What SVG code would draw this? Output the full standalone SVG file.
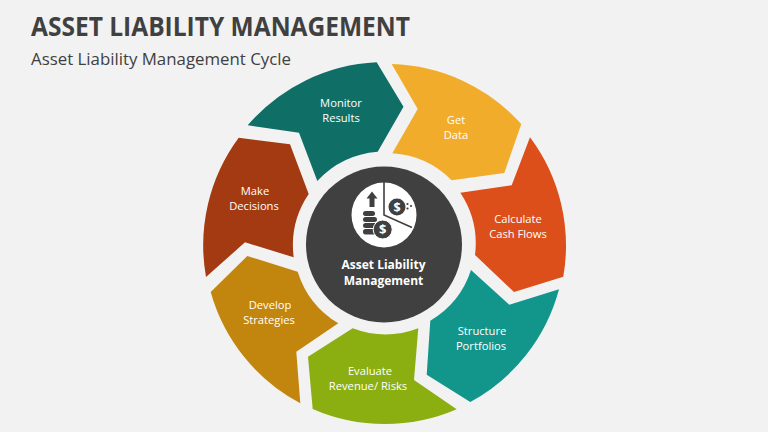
<svg xmlns="http://www.w3.org/2000/svg" width="768" height="432" viewBox="0 0 768 432">
<style>
text{font-family:"Open Sans","Noto Sans","Liberation Sans",sans-serif}
.l{font-size:11.2px;fill:#fff;text-anchor:middle}
.c{font-size:12px;font-weight:700;fill:#fff;text-anchor:middle}
.d{fill:#404040}
.s{font-weight:700;fill:#fff;text-anchor:middle}
</style>
<rect width="768" height="432" fill="#f2f2f2"/>
<text x="31" y="36" font-size="26" font-weight="700" fill="#404040" textLength="379" lengthAdjust="spacingAndGlyphs">ASSET LIABILITY MANAGEMENT</text>
<text x="31" y="65" font-size="16" fill="#404040" textLength="260" lengthAdjust="spacingAndGlyphs">Asset Liability Management Cycle</text>
<g id="connectors"></g>
<g id="node-monitor"><path fill="#0f6f66" d="M376.7 62.3L403.5 106.7L377.7 151.7A92 92 0 0 0 317.3 181L299 132.7L247.7 125.3A181 181 0 0 1 376.7 62.3Z"/><text class="l" x="341" y="107">Monitor</text><text class="l" x="341" y="122">Results</text></g>
<g id="node-get-data"><path fill="#f2ac2b" d="M391.7 64A181 181 0 0 1 521.3 124L504.3 173L451.7 180.3A92 92 0 0 0 392.3 153.3L417.7 109Z"/><text class="l" x="456" y="124">Get</text><text class="l" x="456" y="139">Data</text></g>
<g id="node-calculate"><path fill="#dc4f1b" d="M530 137.3A181 181 0 0 1 563.3 276.7L514 292L475 255A92 92 0 0 0 460.3 192.7L511.7 185.3Z"/><text class="l" x="518" y="223">Calculate</text><text class="l" x="518" y="238">Cash Flows</text></g>
<g id="node-structure"><path fill="#12968b" d="M559 289.3A181 181 0 0 1 470.3 402L426.7 374.7L430.3 320.7A92 92 0 0 0 471 270L509.3 304.7Z"/><text class="l" x="482" y="335">Structure</text><text class="l" x="481" y="350">Portfolios</text></g>
<g id="node-evaluate"><path fill="#8bae11" d="M456.7 409.3A181 181 0 0 1 312.7 409L308 356.7L352.7 328.3A92 92 0 0 0 418.3 328.3L414 380Z"/><text class="l" x="370" y="375">Evaluate</text><text class="l" x="368" y="390">Revenue/ Risks</text></g>
<g id="node-develop"><path fill="#c2860f" d="M247.3 256L297.7 271.7A92 92 0 0 0 338.3 323.3L296.3 351.7L300.3 403.3A181 181 0 0 1 210.7 292Z"/><text class="l" x="270" y="309">Develop</text><text class="l" x="269" y="324">Strategies</text></g>
<g id="node-make"><path fill="#a33a12" d="M238.7 137.7L290 144.3L308.7 194A92 92 0 0 0 293.7 257.3L245 242.3L206 277A181 181 0 0 1 238.7 137.7Z"/><text class="l" x="255" y="195">Make</text><text class="l" x="254" y="210">Decisions</text></g>
<g id="node-center">
<circle cx="384" cy="244.5" r="78" fill="#404040"/>
<circle cx="384" cy="215" r="32.5" fill="#fff"/>
<path d="M384 182V215L412 227.5" fill="none" stroke="#404040" stroke-width="1.6"/>
<path class="d" d="M372 191.5L377.5 198.5H374.5V207H369.5V198.5H366.5Z"/>
<rect class="d" x="363" y="211" width="12" height="5" rx="2.5"/><rect class="d" x="363" y="217" width="14" height="5" rx="2.5"/><rect class="d" x="363" y="223" width="14" height="5" rx="2.5"/><rect class="d" x="363" y="229" width="14" height="5.5" rx="2.5"/>
<circle cx="382.7" cy="229.5" r="9.5" class="d" stroke="#fff" stroke-width="1"/><text class="s" x="382.7" y="234" font-size="13">$</text>
<circle cx="397" cy="207" r="8.5" class="d"/><text class="s" x="397" y="211.5" font-size="12.5">$</text>
<circle cx="407.5" cy="204" r="1.1" class="d"/><circle cx="411" cy="206" r="1.1" class="d"/><circle cx="407.5" cy="208.5" r="1.1" class="d"/>
<text class="c" x="383.5" y="268.5">Asset Liability</text><text class="c" x="383.5" y="285">Management</text>
</g>
</svg>
